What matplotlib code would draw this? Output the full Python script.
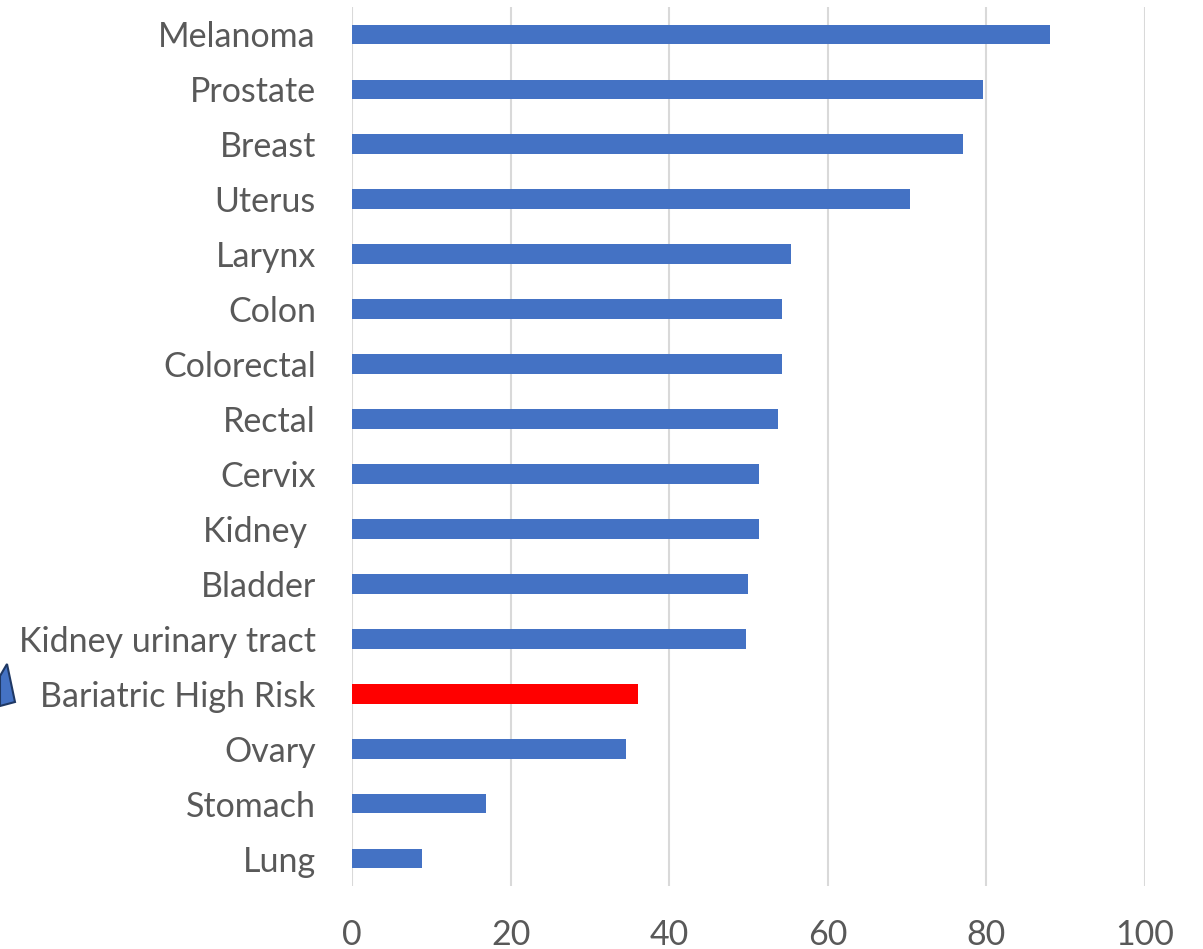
import matplotlib
matplotlib.use('Agg')
import matplotlib.pyplot as plt
from matplotlib.patches import Polygon

# values (top to bottom)
cancers = ['Melanoma', 'Prostate', 'Breast', 'Uterus', 'Larynx', 'Colon', 'Colorectal', 'Rectal',
           'Cervix', 'Kidney ', 'Bladder', 'Kidney urinary tract', 'Bariatric High Risk', 'Ovary',
           'Stomach', 'Lung']
values = [88.0, 79.6, 77.0, 70.4, 55.4, 54.2, 54.2, 53.7, 51.3, 51.3, 49.9, 49.7, 36.1, 34.6, 16.9, 8.8]
highlight = 'Bariatric High Risk'
x_ticks = [0, 20, 40, 60, 80, 100]

plt.rcParams['font.family'] = ['Lato', 'DejaVu Sans']

fig = plt.figure(figsize=(12.03, 9.49), dpi=100)
ax = fig.add_axes([352 / 1203, 1 - 886 / 949, (1145 - 352) / 1203, (886 - 7) / 949])

colors = ['#FF0000' if c == highlight else '#4472C4' for c in cancers]
ypos = list(range(len(cancers)))[::-1]
ax.barh(ypos, values, height=0.36, color=colors, zorder=3)

ax.set_xlim(0, 100)
ax.set_ylim(-0.5, len(cancers) - 0.5)
ax.set_xticks(x_ticks)
ax.set_yticks(ypos)
ax.set_yticklabels(cancers)
ax.grid(axis='x', color='#D9D9D9', linewidth=1.5, zorder=0)
for s in ax.spines.values():
    s.set_visible(False)
ax.tick_params(axis='both', length=0, colors='#595959', labelsize=24.5)
ax.tick_params(axis='y', pad=26)
ax.tick_params(axis='x', pad=24)

# callout arrow partly cut off at the left edge
arrow = Polygon([(0, 1 - 676 / 949), (7 / 1203, 1 - 664 / 949), (15 / 1203, 1 - 702 / 949),
                 (0, 1 - 706 / 949)], closed=True, transform=fig.transFigure,
                facecolor='#4472C4', edgecolor='#1F3864', linewidth=1.5)
fig.patches.append(arrow)

fig.savefig('out.png', dpi=100)
